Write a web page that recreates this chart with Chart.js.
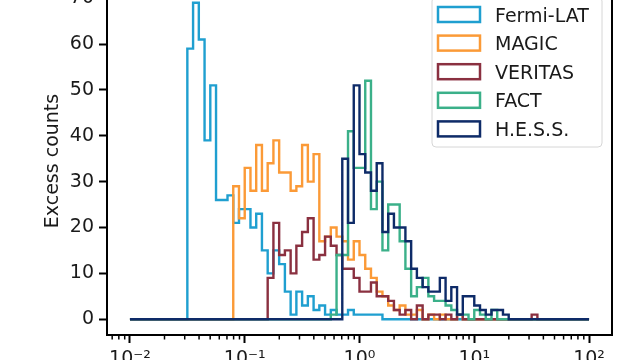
<!DOCTYPE html>
<html>
<head>
<meta charset="utf-8">
<script src="https://cdn.jsdelivr.net/npm/chart.js@4.4.1/dist/chart.umd.min.js"></script>
<style>
  html, body { margin: 0; padding: 0; width: 640px; height: 360px; overflow: hidden; background: #fff; }
  #myChart { position: absolute; left: 0; top: -13px; }
</style>
</head>
<body>
<canvas id="myChart" width="640" height="390"></canvas>
<script>
// histogram bins: 20 per decade, from 1e-2 to 1e2
const binLogMin = -2;
const binsPerDecade = 20;
const binCount = 80;

const seriesNames = ["Fermi-LAT", "MAGIC", "VERITAS", "FACT", "H.E.S.S."];
const seriesColors = ["#1f9fd0", "#fb9a37", "#8a3040", "#3bb089", "#0e2b68"];

// index of the first filled bin (counted from 1e-2) and excess counts per bin
const fermiFirstBin = 10;
const fermiCounts = [59, 69, 61, 39, 51, 26, 26, 27, 21, 24, 24, 20, 23, 15, 10, 15, 12, 6, 1, 6,
  3, 5, 2, 3, 1, 2, 1, 1, 2, 1, 1, 1, 1, 1];

const magicFirstBin = 18;
const magicCounts = [29, 22, 33, 28, 38, 28, 34, 39, 32, 32, 28, 29, 38, 30, 36, 17, 18, 20, 18, 17,
  13, 17, 14, 11, 9, 6, 5, 3, 2, 3, 1, 1, 2, 0, 1, 0, 1, 0, 0, 1];

const veritasFirstBin = 24;
const veritasCounts = [9, 21, 14, 15, 10, 16, 19, 22, 13, 14, 18, 16, 14, 11, 11, 9, 6, 6, 8, 5,
  5, 4, 2, 1, 2, 0, 3, 0, 1, 1, 0, 1, 0, 1, 0, 0, 0, 0, 0, 0, 0, 0, 0, 0, 0, 0, 1];

const factFirstBin = 35;
const factCounts = [1, 14, 14, 41, 33, 33, 52, 24, 30, 15, 25, 25, 17, 11, 5, 7, 9, 5, 4, 4,
  3, 2, 1, 1, 0, 2, 1, 0, 2];

const hessFirstBin = 37;
const hessCounts = [35, 21, 51, 36, 32, 28, 34, 19, 23, 20, 20, 17, 11, 9, 7, 6, 6, 9, 4, 7,
  1, 5, 5, 3, 2, 1, 2, 2, 1];

const firstBins = [fermiFirstBin, magicFirstBin, veritasFirstBin, factFirstBin, hessFirstBin];
const counts = [fermiCounts, magicCounts, veritasCounts, factCounts, hessCounts];

const xDecades = [-2, -1, 0, 1, 2];
const yTicks = [0, 10, 20, 30, 40, 50, 60, 70];

const font = "DejaVu Sans";
const textColor = "#1a1a1a";

function binEdge(i) {
  return Math.pow(10, binLogMin + i / binsPerDecade);
}

// outline of a step histogram: one point per bin edge
function histPoints(firstBin, values) {
  let pts = [{ x: binEdge(0), y: 0 }];
  for (let i = 0; i < binCount; i++) {
    let j = i - firstBin;
    let c = j >= 0 && j < values.length ? values[j] : 0;
    pts.push({ x: binEdge(i), y: c });
  }
  pts.push({ x: binEdge(binCount), y: 0 });
  return pts;
}

const supDigits = { "-": "\u207B", "0": "\u2070", "1": "\u00B9", "2": "\u00B2", "3": "\u00B3" };
function powLabel(v) {
  let e = Math.round(Math.log10(v));
  return "10" + String(e).split("").map((ch) => supDigits[ch]).join("");
}

// right/top spines
const framePlugin = {
  id: "frame",
  afterDraw(chart) {
    const { ctx, chartArea: a } = chart;
    ctx.save();
    ctx.strokeStyle = "#000";
    ctx.lineWidth = 2;
    ctx.strokeRect(a.left, a.top, a.right - a.left, a.bottom - a.top);
    ctx.restore();
  },
};

// minor ticks of the log axis
const minorTickPlugin = {
  id: "minorTicks",
  afterDraw(chart) {
    const { ctx, chartArea: a } = chart;
    const xs = chart.scales.x;
    ctx.save();
    ctx.strokeStyle = "#000";
    ctx.lineWidth = 1.5;
    for (let d = -3; d <= 2; d++) {
      for (let m = 2; m <= 9; m++) {
        let v = m * Math.pow(10, d);
        if (v < xs.min || v > xs.max) continue;
        let px = xs.getPixelForValue(v);
        ctx.beginPath();
        ctx.moveTo(px, a.bottom);
        ctx.lineTo(px, a.bottom + 4.5);
        ctx.stroke();
      }
    }
    ctx.restore();
  },
};

// legend box in the upper right corner of the axes
const legendPlugin = {
  id: "boxLegend",
  afterDraw(chart) {
    const { ctx, chartArea: a } = chart;
    const right = a.right - 10;
    const left = right - 170;
    const top = a.top + 10;
    const bottom = a.top + 160;
    const r = 4;
    ctx.save();
    ctx.beginPath();
    ctx.moveTo(left + r, top);
    ctx.lineTo(right - r, top);
    ctx.quadraticCurveTo(right, top, right, top + r);
    ctx.lineTo(right, bottom - r);
    ctx.quadraticCurveTo(right, bottom, right - r, bottom);
    ctx.lineTo(left + r, bottom);
    ctx.quadraticCurveTo(left, bottom, left, bottom - r);
    ctx.lineTo(left, top + r);
    ctx.quadraticCurveTo(left, top, left + r, top);
    ctx.closePath();
    ctx.fillStyle = "rgba(255,255,255,0.85)";
    ctx.fill();
    ctx.strokeStyle = "#d6d6d6";
    ctx.lineWidth = 1;
    ctx.stroke();

    ctx.font = "19px '" + font + "'";
    ctx.textAlign = "left";
    ctx.textBaseline = "alphabetic";
    chart.data.datasets.forEach(function (ds, i) {
      let cy = a.top + 27.5 + i * 28.6;
      ctx.fillStyle = "#fff";
      ctx.fillRect(left + 6, cy - 7.5, 42, 15);
      ctx.strokeStyle = ds.borderColor;
      ctx.lineWidth = 2.5;
      ctx.strokeRect(left + 6, cy - 7.5, 42, 15);
      ctx.fillStyle = textColor;
      ctx.fillText(ds.label, left + 63, cy + 7);
    });
    ctx.restore();
  },
};

let ctx = document.getElementById("myChart").getContext("2d");
let chart = new Chart(ctx, {
  type: "line",
  data: {
    datasets: seriesNames.map(function (name, i) {
      return {
        label: name,
        data: histPoints(firstBins[i], counts[i]),
        borderColor: seriesColors[i],
        backgroundColor: seriesColors[i],
        borderWidth: 2.4,
        pointRadius: 0,
        stepped: "before",
        fill: false,
        order: seriesNames.length - i,
      };
    }),
  },
  options: {
    responsive: false,
    animation: false,
    layout: { autoPadding: false, padding: { top: 0, left: 0, right: 28, bottom: 0 } },
    plugins: { legend: { display: false }, tooltip: { enabled: false } },
    scales: {
      x: {
        type: "logarithmic",
        min: Math.pow(10, -2.2),
        max: Math.pow(10, 2.2),
        afterBuildTicks: function (s) {
          s.ticks = xDecades.map((d) => ({ value: Math.pow(10, d) }));
        },
        afterFit: function (s) {
          s.height = 42;
          s.paddingLeft = 0;
          s.paddingRight = 0;
        },
        grid: { drawOnChartArea: false, drawTicks: true, tickLength: 8, tickWidth: 2, tickColor: "#000" },
        border: { display: true, color: "#000", width: 2 },
        ticks: {
          autoSkip: false,
          maxRotation: 0,
          padding: 5,
          color: textColor,
          font: { family: font, size: 19 },
          callback: (v) => powLabel(v),
        },
      },
      y: {
        type: "linear",
        min: -3.45,
        max: 72.45,
        afterBuildTicks: function (s) {
          s.ticks = yTicks.map((v) => ({ value: v }));
        },
        afterFit: function (s) {
          s.width = 107;
          s.paddingTop = 0;
          s.paddingBottom = 0;
        },
        grid: { drawOnChartArea: false, drawTicks: true, tickLength: 8, tickWidth: 2, tickColor: "#000" },
        border: { display: true, color: "#000", width: 2 },
        ticks: { padding: 5, color: textColor, font: { family: font, size: 19 } },
        title: {
          display: true,
          text: "Excess counts",
          color: textColor,
          font: { family: font, size: 19, lineHeight: 1.2 },
          padding: { top: 42, bottom: 0 },
        },
      },
    },
  },
  plugins: [framePlugin, minorTickPlugin, legendPlugin],
});
</script>
</body>
</html>
